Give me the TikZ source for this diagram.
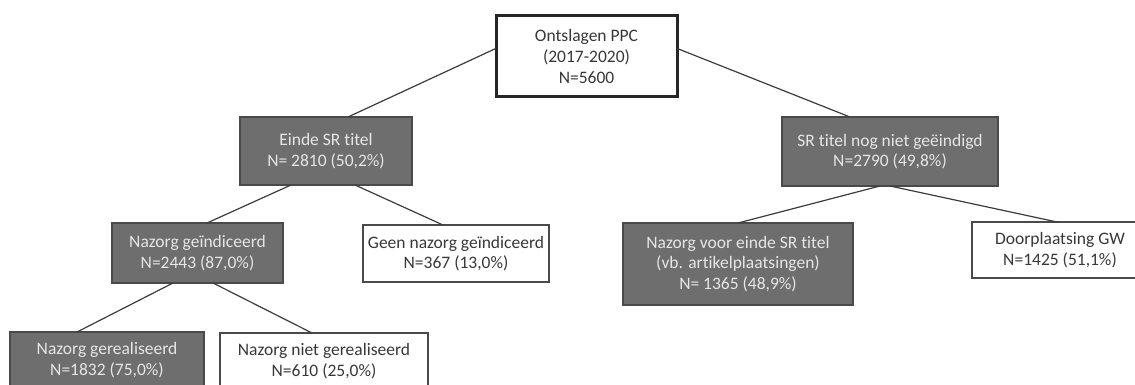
\documentclass[tikz,border=0pt]{standalone}
\usepackage{fontspec}
\setmainfont[Ligatures={NoCommon}]{Carlito}
\usetikzlibrary{calc}
\definecolor{boxgray}{HTML}{6E6E6E}
\definecolor{boxedge}{HTML}{4A4A4A}
\definecolor{lighttext}{HTML}{E6E6E6}
\definecolor{darktext}{HTML}{383838}
\definecolor{linkgray}{HTML}{3C3C3C}
\begin{document}
\begin{tikzpicture}[x=1pt,y=-1pt,
  every node/.style={font=\fontsize{17.5}{20.7}\selectfont, align=center, inner sep=0pt, outer sep=0pt},
  graybox/.style={draw=boxedge, fill=boxgray, line width=1.5pt, text=lighttext},
  whitebox/.style={draw=boxedge, fill=white, line width=1.2pt, text=darktext},
  rootbox/.style={draw=black!85, fill=white, line width=3pt, text=darktext},
  link/.style={draw=linkgray, line width=1.2pt}]
\useasboundingbox (0,0) rectangle (1135,385);
\clip (0,0) rectangle (1135,385);
\fill[white] (0,0) rectangle (1135,385);

\node[rootbox, minimum width=181, minimum height=81] (root) at (586.5,56.5) {Ontslagen PPC\\(2017-2020)\\N=5600};
\node[graybox, minimum width=172, minimum height=68] (ein) at (326,151) {Einde SR titel\\N= 2810 (50,2\%)};
\node[graybox, minimum width=216, minimum height=69] (srn) at (890,151.5) {SR titel nog niet geëindigd\\N=2790 (49,8\%)};
\node[graybox, minimum width=171, minimum height=60] (nzi) at (197.5,253) {Nazorg geïndiceerd\\N=2443 (87,0\%)};
\node[whitebox, minimum width=186, minimum height=57] (geen) at (456,253.5) {Geen nazorg geïndiceerd\\N=367 (13,0\%)};
\node[graybox, minimum width=230, minimum height=82] (nvo) at (738,264) {Nazorg voor einde SR titel\\(vb. artikelplaatsingen)\\N= 1365 (48,9\%)};
\node[whitebox, minimum width=176, minimum height=56] (door) at (1060,250) {Doorplaatsing GW\\N=1425 (51,1\%)};
\node[graybox, minimum width=194, minimum height=56] (nzr) at (107,360) {Nazorg gerealiseerd\\N=1832 (75,0\%)};
\node[whitebox, minimum width=208, minimum height=56] (nzn) at (324,361) {Nazorg niet gerealiseerd\\N=610 (25,0\%)};

\draw[link] ($(root.north west)!0.4!(root.south west)$) -- ([xshift=22pt]ein.north);
\draw[link] ($(root.north east)!0.4!(root.south east)$) -- ([xshift=-40pt]srn.north);
\draw[link] ([xshift=-35pt]ein.south) -- ([xshift=9.5pt]nzi.north);
\draw[link] ([xshift=29pt]ein.south) -- ([xshift=-13pt]geen.north);
\draw[link] ([xshift=-10pt]srn.south) -- (nvo.north);
\draw[link] (srn.south) -- ([xshift=-3pt]door.north);
\draw[link] ([xshift=-24.5pt]nzi.south) -- ([xshift=-30pt]nzr.north);
\draw[link] ([xshift=15.5pt]nzi.south) -- ([xshift=-12pt]nzn.north);
\end{tikzpicture}
\end{document}
